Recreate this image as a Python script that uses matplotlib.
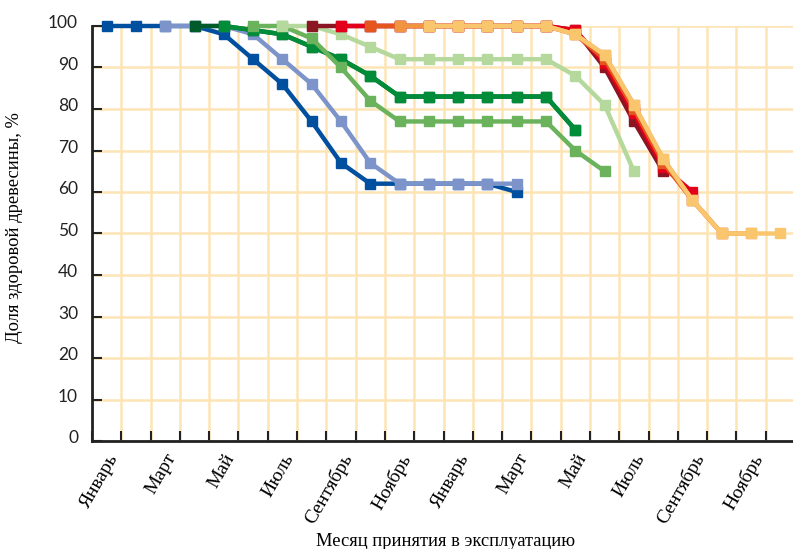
import numpy as np
import matplotlib
matplotlib.use("Agg")
import matplotlib.pyplot as plt
from matplotlib.transforms import ScaledTranslation

N = None
months = ["Январь", "Февраль", "Март", "Апрель", "Май", "Июнь", "Июль", "Август",
          "Сентябрь", "Октябрь", "Ноябрь", "Декабрь"] * 2
tick_labels = ["Январь", "Март", "Май", "Июль", "Сентябрь", "Ноябрь"] * 2

dark_blue    = [100, 100, 100, 100, 98, 92, 86, 77, 67, 62, 62, 62, 62, 62, 60, N, N, N, N, N, N, N, N, N]
light_blue   = [N, N, 100, 100, 100, 98, 92, 86, 77, 67, 62, 62, 62, 62, 62, N, N, N, N, N, N, N, N, N]
dark_green   = [N, N, N, 100, 100, 99, 98, 95, 92, 88, 83, 83, 83, 83, 83, 83, 75, N, N, N, N, N, N, N]
green        = [N, N, N, N, 100, 99, 98, 95, 92, 88, 83, 83, 83, 83, 83, 83, 75, N, N, N, N, N, N, N]
mid_green    = [N, N, N, N, N, 100, 100, 97, 90, 82, 77, 77, 77, 77, 77, 77, 70, 65, N, N, N, N, N, N]
light_green  = [N, N, N, N, N, N, 100, 100, 98, 95, 92, 92, 92, 92, 92, 92, 88, 81, 65, N, N, N, N, N]
dark_red     = [N, N, N, N, N, N, N, 100, 100, 100, 100, 100, 100, 100, 100, 100, 99, 90, 77, 65, N, N, N, N]
red          = [N, N, N, N, N, N, N, N, 100, 100, 100, 100, 100, 100, 100, 100, 99, 91, 79, 66, 60, N, N, N]
orange_red   = [N, N, N, N, N, N, N, N, N, 100, 100, 100, 100, 100, 100, 100, 98, 92, 80, 67, 58, 50, N, N]
orange       = [N, N, N, N, N, N, N, N, N, N, 100, 100, 100, 100, 100, 100, 98, 93, 81, 68, 58, 50, 50, N]
light_orange = [N, N, N, N, N, N, N, N, N, N, N, 100, 100, 100, 100, 100, 98, 93, 81, 68, 58, 50, 50, 50]

series = [dark_blue, light_blue, dark_green, green, mid_green, light_green,
          dark_red, red, orange_red, orange, light_orange]
colors = ["#00509f", "#7d94cb", "#005a2a", "#008c38", "#6ab25b", "#b5d89c",
          "#8b1522", "#e2001a", "#e5561f", "#f19440", "#f9c66d"]

fig = plt.figure(figsize=(7.93, 5.49), dpi=100)
ax = fig.add_axes([92/793, (549-441)/549, 703/793, 415/549])

x = np.arange(len(months)) + 0.5
for vals, c in zip(series, colors):
    y = np.array([np.nan if v is None else v for v in vals], dtype=float)
    ax.plot(x, y, color=c, lw=3.2, marker='s', ms=7.8, mec=c, mfc=c,
            clip_on=False, solid_joinstyle='miter', zorder=3)

ax.set_xlim(0, len(months))
ax.set_ylim(0, 100)
ax.set_xticks(np.arange(0, len(months) + 1))
ax.set_xticklabels([])
ax.set_xticks(np.arange(0, len(months), 2) + 0.5, minor=True)
ax.set_xticklabels(tick_labels, minor=True, rotation=60, ha='right', va='top',
                   rotation_mode='anchor', family='Liberation Serif', fontsize=14)
ax.tick_params(axis='x', which='minor', length=0, pad=7)
ax.set_yticks(np.arange(0, 101, 10))
ax.set_yticklabels([str(v) for v in range(0, 101, 10)], family='Lato', fontsize=12.5, color='#222222')
ax.tick_params(axis='both', which='major', direction='in', length=7.2, width=1.5, color='#222222')
ax.tick_params(axis='y', which='major', pad=10)
for lab in ax.get_yticklabels():
    lab.set_transform(lab.get_transform() + ScaledTranslation(0, 3/72, fig.dpi_scale_trans))

ax.grid(True, which='major', color='#fde4b5', lw=1.8, zorder=0)
ax.set_axisbelow(True)
for s in ['top', 'right']:
    ax.spines[s].set_visible(False)
for s in ['left', 'bottom']:
    ax.spines[s].set_linewidth(2.0)
    ax.spines[s].set_color('#222222')

ax.set_xlabel("Месяц принятия в эксплуатацию", family='Liberation Serif', fontsize=13.3)
ax.xaxis.set_label_coords((446-92)/703, (441-533)/415)
ax.set_ylabel("Доля здоровой древесины, %", family='Liberation Serif', fontsize=13.3)
ax.yaxis.set_label_coords((23-92)/703, (441-228)/415)

fig.savefig("out.png", dpi=100)
